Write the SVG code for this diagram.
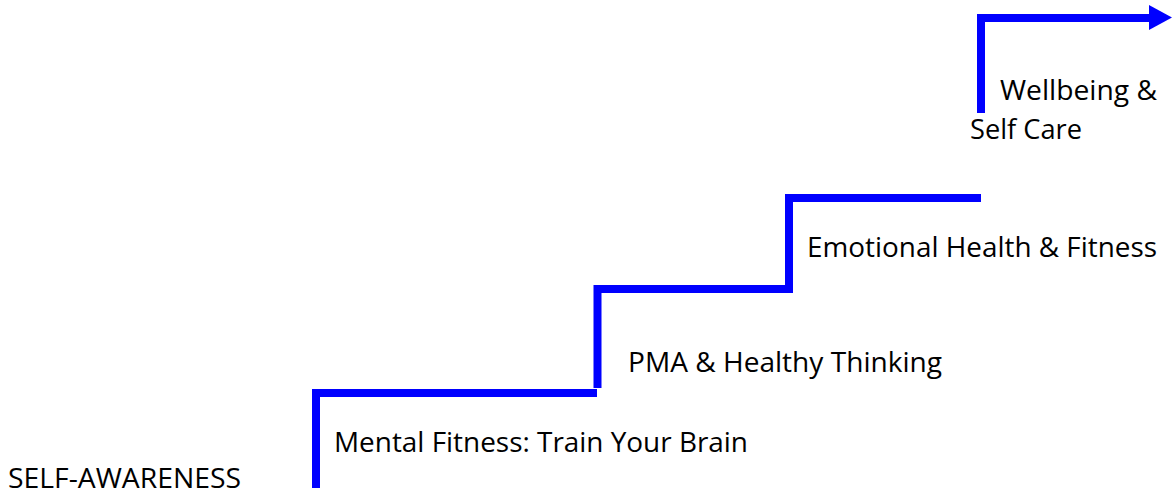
<svg xmlns="http://www.w3.org/2000/svg" width="1172" height="497" viewBox="0 0 1172 497">
<style>
.step{fill:none;stroke:#0000ff;stroke-width:8;stroke-linejoin:miter;stroke-linecap:butt}
.lbl{font-family:"Open Sans","Liberation Sans",sans-serif;font-size:27px;fill:#000}
</style>
<rect width="1172" height="497" fill="#fff"/>
<g id="connectors">
<polyline class="step" points="316,488 316,393 597,393"/>
<polyline class="step" points="597.5,388 597.5,289 793,289"/>
<polyline class="step" points="789,293 789,198 981,198"/>
<polyline class="step" points="981,113 981,18 1150,18"/>
<polygon points="1149,5 1172,17.5 1149,30" fill="#0000ff"/>
</g>
<g id="self-awareness"><text class="lbl" x="8" y="488" textLength="233" lengthAdjust="spacingAndGlyphs">SELF-AWARENESS</text></g>
<g id="mental-fitness"><text class="lbl" x="334" y="452" textLength="414" lengthAdjust="spacingAndGlyphs">Mental Fitness: Train Your Brain</text></g>
<g id="pma"><text class="lbl" x="628" y="372" textLength="314" lengthAdjust="spacingAndGlyphs">PMA &amp; Healthy Thinking</text></g>
<g id="emotional"><text class="lbl" x="807" y="257" textLength="350" lengthAdjust="spacingAndGlyphs">Emotional Health &amp; Fitness</text></g>
<g id="wellbeing"><text class="lbl" x="1000" y="100" textLength="157" lengthAdjust="spacingAndGlyphs">Wellbeing &amp;</text><text class="lbl" x="970" y="139" textLength="112" lengthAdjust="spacingAndGlyphs">Self Care</text></g>
</svg>
